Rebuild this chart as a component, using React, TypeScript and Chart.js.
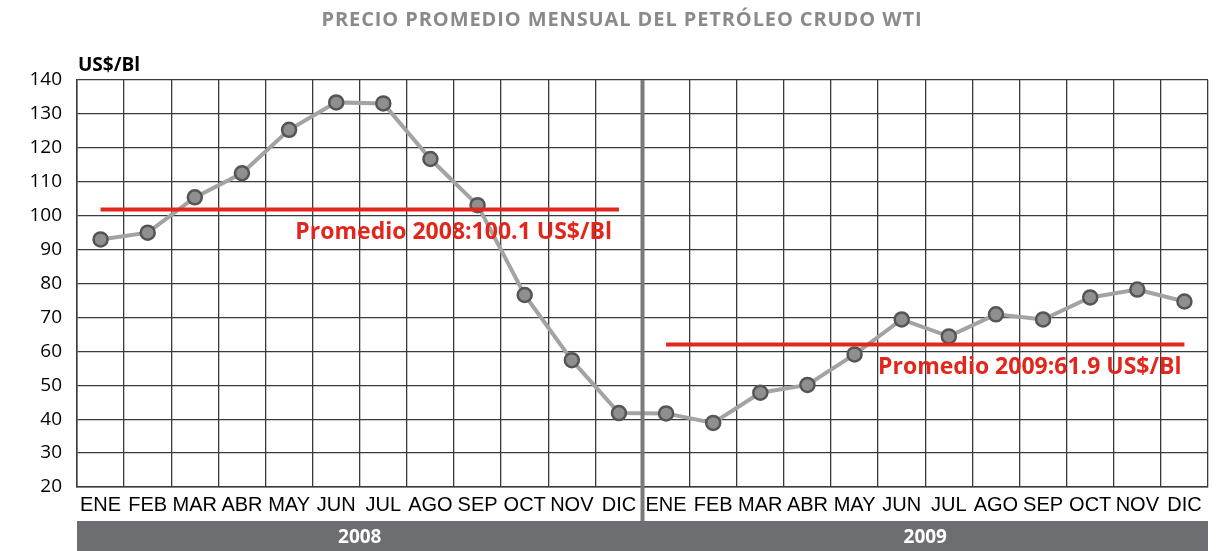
import React, { useEffect, useRef } from "react";
import { Chart, registerables } from "chart.js";

Chart.register(...registerables);

const months = ["ENE", "FEB", "MAR", "ABR", "MAY", "JUN", "JUL", "AGO", "SEP", "OCT", "NOV", "DIC"];
const categories = [...months, ...months];
const years = ["2008", "2009"];
const prices = [
  93.0, 95.0, 105.4, 112.5, 125.3, 133.4, 133.1, 116.7, 103.1, 76.6, 57.4, 41.8,
  41.7, 38.9, 47.8, 50.1, 59.1, 69.4, 64.4, 70.9, 69.4, 75.9, 78.2, 74.7,
];
const avgValues = [101.8, 62.0];
const avgLabels = ["Promedio 2008:100.1 US$/Bl", "Promedio 2009:61.9 US$/Bl"];
const yTicks = [20, 30, 40, 50, 60, 70, 80, 90, 100, 110, 120, 130, 140];
const title = "PRECIO PROMEDIO MENSUAL DEL PETRÓLEO CRUDO WTI";
const unitLabel = "US$/Bl";

const FONT = "'Open Sans', 'Liberation Sans', sans-serif";
const NARROW = "'Liberation Sans Narrow', 'Liberation Sans', sans-serif";

const avg2008 = categories.map((_, i) => (i < 12 ? avgValues[0] : null));
const avg2009 = categories.map((_, i) => (i >= 12 ? avgValues[1] : null));

const decorPlugin = {
  id: "decor",
  afterDraw(chart: any) {
    const { ctx, chartArea, scales } = chart;
    const x = scales.x;
    const y = scales.y;
    ctx.save();
    ctx.textBaseline = "middle";
    // title
    ctx.fillStyle = "#8a8a8a";
    ctx.font = `bold 20px ${FONT}`;
    ctx.textAlign = "center";
    (ctx as any).letterSpacing = "0.9px";
    ctx.fillText(title, 622, 20);
    (ctx as any).letterSpacing = "0px";
    // unit label
    ctx.fillStyle = "#000";
    ctx.font = `bold 19px ${FONT}`;
    ctx.textAlign = "left";
    ctx.fillText(unitLabel, 78, 66);
    // divider
    const divX = (x.getPixelForValue(11) + x.getPixelForValue(12)) / 2;
    const barTop = 521;
    ctx.strokeStyle = "#7a7a7a";
    ctx.lineWidth = 4;
    ctx.beginPath();
    ctx.moveTo(divX, chartArea.top);
    ctx.lineTo(divX, barTop);
    ctx.stroke();
    // year bar
    ctx.fillStyle = "#6d6e71";
    ctx.fillRect(chartArea.left, barTop, chartArea.right - chartArea.left, 551 - barTop);
    ctx.fillStyle = "#fff";
    ctx.font = `bold 19px ${FONT}`;
    ctx.textAlign = "center";
    const mid = (barTop + 551) / 2 + 2;
    ctx.fillText(years[0], (chartArea.left + divX) / 2, mid);
    ctx.fillText(years[1], (divX + chartArea.right) / 2, mid);
    // average labels
    ctx.fillStyle = "#e3261c";
    ctx.font = `bold 23px ${FONT}`;
    ctx.textAlign = "right";
    ctx.fillText(avgLabels[0], x.getPixelForValue(11) - 7, y.getPixelForValue(avgValues[0]) + 23);
    ctx.fillText(avgLabels[1], x.getPixelForValue(23) - 3, y.getPixelForValue(avgValues[1]) + 23);
    ctx.restore();
  },
};

export default function App() {
  const ref = useRef<HTMLCanvasElement>(null);
  useEffect(() => {
    if (!ref.current) return;
    const chart = new Chart(ref.current, {
      type: "line",
      data: {
        labels: categories,
        datasets: [
          {
            data: avg2008,
            borderColor: "#e3261c",
            borderWidth: 4,
            pointRadius: 0,
            spanGaps: false,
          },
          {
            data: avg2009,
            borderColor: "#e3261c",
            borderWidth: 4,
            pointRadius: 0,
            spanGaps: false,
          },
          {
            data: prices,
            borderColor: "#a3a3a3",
            borderWidth: 4,
            pointRadius: 7,
            pointBackgroundColor: "#8f8f8f",
            pointBorderColor: "#555",
            pointBorderWidth: 2.5,
            tension: 0,
          },
        ],
      },
      options: {
        animation: false,
        responsive: false,
        maintainAspectRatio: false,
        layout: { padding: { left: 0, right: 23, top: 80, bottom: 0 } },
        plugins: { legend: { display: false }, tooltip: { enabled: false }, title: { display: false } },
        scales: {
          x: {
            offset: true,
            grid: { offset: true, color: "#3a3a3a", lineWidth: 1.3, drawTicks: false },
            border: { color: "#3a3a3a", width: 1.5 },
            ticks: {
              color: "#000",
              font: { family: NARROW, size: 20 },
              padding: 6,
              maxRotation: 0,
              autoSkip: false,
            },
            afterFit(axis: any) {
              axis.height = 64;
            },
          },
          y: {
            min: 20,
            max: 140,
            afterBuildTicks(axis: any) {
              axis.ticks = yTicks.map((v) => ({ value: v }));
            },
            grid: { color: "#3a3a3a", lineWidth: 1.3, drawTicks: false },
            border: { color: "#3a3a3a", width: 1.5 },
            ticks: {
              color: "#000",
              font: { family: FONT, size: 19 },
              padding: 15,
            },
            afterFit(axis: any) {
              axis.width = 77;
            },
          },
        },
      },
      plugins: [decorPlugin],
    } as any);
    return () => chart.destroy();
  }, []);
  return (
    <div style={{ position: "fixed", left: 0, top: 0, width: 1231, height: 551, background: "#fff" }}>
      <canvas ref={ref} width={1231} height={551} style={{ display: "block" }} />
    </div>
  );
}
